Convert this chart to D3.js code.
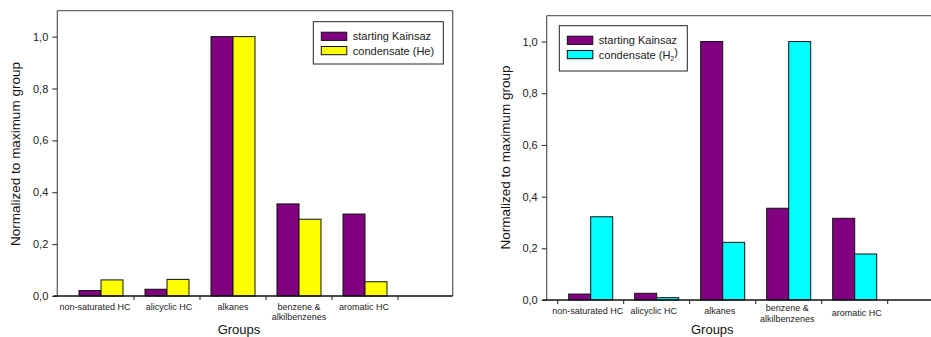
<!DOCTYPE html>
<html>
<head>
<meta charset="utf-8">
<script src="https://cdn.jsdelivr.net/npm/d3@7"></script>
<style>
  body { margin: 0; background: #fff; }
  svg { display: block; font-family: "Liberation Sans", Arial, sans-serif; }
</style>
</head>
<body>
<svg id="chart" width="931" height="337"></svg>
<script>
// groups on the x axis (multi-line labels as drawn)
var groups = ["non-saturated HC", "alicyclic HC", "alkanes", "benzene & alkilbenzenes", "aromatic HC"];
var groupLabels = [["non-saturated HC"], ["alicyclic HC"], ["alkanes"], ["benzene &", "alkilbenzenes"], ["aromatic HC"]];

// left panel: starting material vs condensate in He
var kainsazLeft = [0.021, 0.026, 1.0, 0.355, 0.316];
var condensateHe = [0.062, 0.064, 1.0, 0.296, 0.055];

// right panel: starting material vs condensate in H2
var kainsazRight = [0.023, 0.026, 1.0, 0.355, 0.316];
var condensateH2 = [0.322, 0.009, 0.223, 1.0, 0.178];

var yTicks = [0, 0.2, 0.4, 0.6, 0.8, 1.0];
var yMax = 1.1;

var svg = d3.select("#chart");
var fmt = function(d) { return d3.format(".1f")(d).replace(".", ","); };

function drawPanel(p) {
    var g = svg.append("g");

    var y = d3.scaleLinear().domain([0, yMax]).range([p.bottom, p.top]);
    var x0 = d3.scaleBand().domain(groups).range([p.bandLeft, p.bandLeft + 66 * groups.length]);
    var x1 = d3.scaleBand().domain([0, 1]).range([0, x0.bandwidth()]).paddingOuter(0.5);

    var rows = groups.map(function(name, i) {
        return { name: name, values: [p.series[0][i], p.series[1][i]] };
    });

    // bars
    g.selectAll(".grp")
        .data(rows)
        .enter()
        .append("g")
        .attr("transform", function(d) { return "translate(" + x0(d.name) + ",0)"; })
        .selectAll("rect")
        .data(function(d) { return d.values; })
        .enter()
        .append("rect")
        .attr("x", function(d, i) { return x1(i); })
        .attr("width", x1.bandwidth())
        .attr("y", function(d) { return y(d); })
        .attr("height", function(d) { return p.bottom - y(d); })
        .style("fill", function(d, i) { return p.colors[i]; })
        .style("stroke", "#111")
        .style("stroke-width", 1);

    // frame
    g.append("line").attr("x1", p.left).attr("x2", p.left).attr("y1", p.top).attr("y2", p.bottom)
        .style("stroke", "#555").style("stroke-width", 1.2);
    g.append("line").attr("x1", p.left).attr("x2", p.right).attr("y1", p.top).attr("y2", p.top)
        .style("stroke", "#666").style("stroke-width", 1.2);
    if (p.closed) {
        g.append("line").attr("x1", p.right).attr("x2", p.right).attr("y1", p.top).attr("y2", p.bottom)
            .style("stroke", "#555").style("stroke-width", 1.2);
    }
    g.append("line").attr("x1", p.left - 4).attr("x2", p.right).attr("y1", p.bottom).attr("y2", p.bottom)
        .style("stroke", "#111").style("stroke-width", 1.6);

    // y axis
    var yAxis = g.append("g")
        .attr("transform", "translate(" + p.left + ",0)")
        .call(d3.axisLeft(y).tickValues(yTicks).tickFormat(fmt).tickSize(5).tickPadding(4));
    yAxis.select(".domain").remove();
    yAxis.selectAll("line").style("stroke", "#222");
    yAxis.selectAll("text").style("font-size", "11px").style("fill", "#222").style("font-family", "inherit");

    // x ticks between groups
    var edges = groups.map(function(d) { return x0(d) + x0.step(); });
    if (p.firstTick) edges.unshift(x0(groups[0]));
    g.selectAll(".xt")
        .data(edges)
        .enter()
        .append("line")
        .attr("x1", function(d) { return d; })
        .attr("x2", function(d) { return d; })
        .attr("y1", p.bottom)
        .attr("y2", p.bottom + 4)
        .style("stroke", "#222");

    // x labels
    g.selectAll(".xl")
        .data(groups)
        .enter()
        .append("text")
        .attr("x", function(d, i) { return x0(d) + x0.bandwidth() / 2 + p.labelDx[i]; })
        .attr("y", function(d, i) { return p.bottom + 13.5 + p.labelDy[i]; })
        .attr("text-anchor", "middle")
        .style("font-size", "9px")
        .style("fill", "#222")
        .selectAll("tspan")
        .data(function(d, i) { return groupLabels[i]; })
        .enter()
        .append("tspan")
        .attr("x", function() { return d3.select(this.parentNode).attr("x"); })
        .attr("dy", function(d, i) { return i === 0 ? 0 : 10.5; })
        .text(function(d) { return d; });

    // axis titles
    g.append("text")
        .attr("transform", "translate(" + p.yTitleX + "," + p.yTitleY + ") rotate(-90)")
        .attr("text-anchor", "middle")
        .attr("dy", "0.35em")
        .style("font-size", "13.5px")
        .style("fill", "#111")
        .text("Normalized to maximum group");
    g.append("text")
        .attr("x", p.xTitleX)
        .attr("y", 334)
        .attr("text-anchor", "middle")
        .style("font-size", "13px")
        .style("fill", "#111")
        .text("Groups");

    // legend
    var lg = g.append("g").attr("transform", "translate(" + p.legend[0] + "," + p.legend[1] + ")");
    lg.append("rect")
        .attr("width", p.legend[2]).attr("height", p.legend[3])
        .style("fill", "#fff").style("stroke", "#222").style("stroke-width", 1);
    p.names.forEach(function(name, i) {
        lg.append("rect")
            .attr("x", 8).attr("y", 10.5 + i * 14.3)
            .attr("width", 25.5).attr("height", 8.2)
            .style("fill", p.colors[i]).style("stroke", "#111").style("stroke-width", 1);
        var t = lg.append("text")
            .attr("x", 39.5).attr("y", 14.8 + i * 14.3)
            .attr("dy", "0.35em")
            .style("font-size", "11px")
            .style("fill", "#222");
        t.append("tspan").text(name[0]);
        if (name[1]) {
            t.append("tspan").attr("dy", "0.3em").style("font-size", "7px").text(name[1]);
            t.append("tspan").attr("dy", "-0.45em").text(name[2]);
        }
    });
}

drawPanel({
    left: 57.3, right: 452.7, top: 10.7, bottom: 296, bandLeft: 68,
    closed: true, firstTick: false,
    series: [kainsazLeft, condensateHe],
    colors: ["#800080", "#ffff00"],
    names: [["starting Kainsaz"], ["condensate (He)"]],
    labelDx: [-6, 2, 0, 0, -1], labelDy: [0, 0, 0, 0, 0],
    legend: [313.3, 21.7, 130, 42.3],
    yTitleX: 15, yTitleY: 154, xTitleX: 239
});

drawPanel({
    left: 546.7, right: 931, top: 15.7, bottom: 300, bandLeft: 557.7,
    closed: false, firstTick: true,
    series: [kainsazRight, condensateH2],
    colors: ["#800080", "#00ffff"],
    names: [["starting Kainsaz"], ["condensate (H", "2", ")"]],
    labelDx: [-3, -3, -3, -1.5, 2], labelDy: [0, 0, 0, -2.5, 2],
    legend: [559.3, 25.7, 128, 45.3],
    yTitleX: 505, yTitleY: 157.5, xTitleX: 712.3
});
</script>
</body>
</html>
